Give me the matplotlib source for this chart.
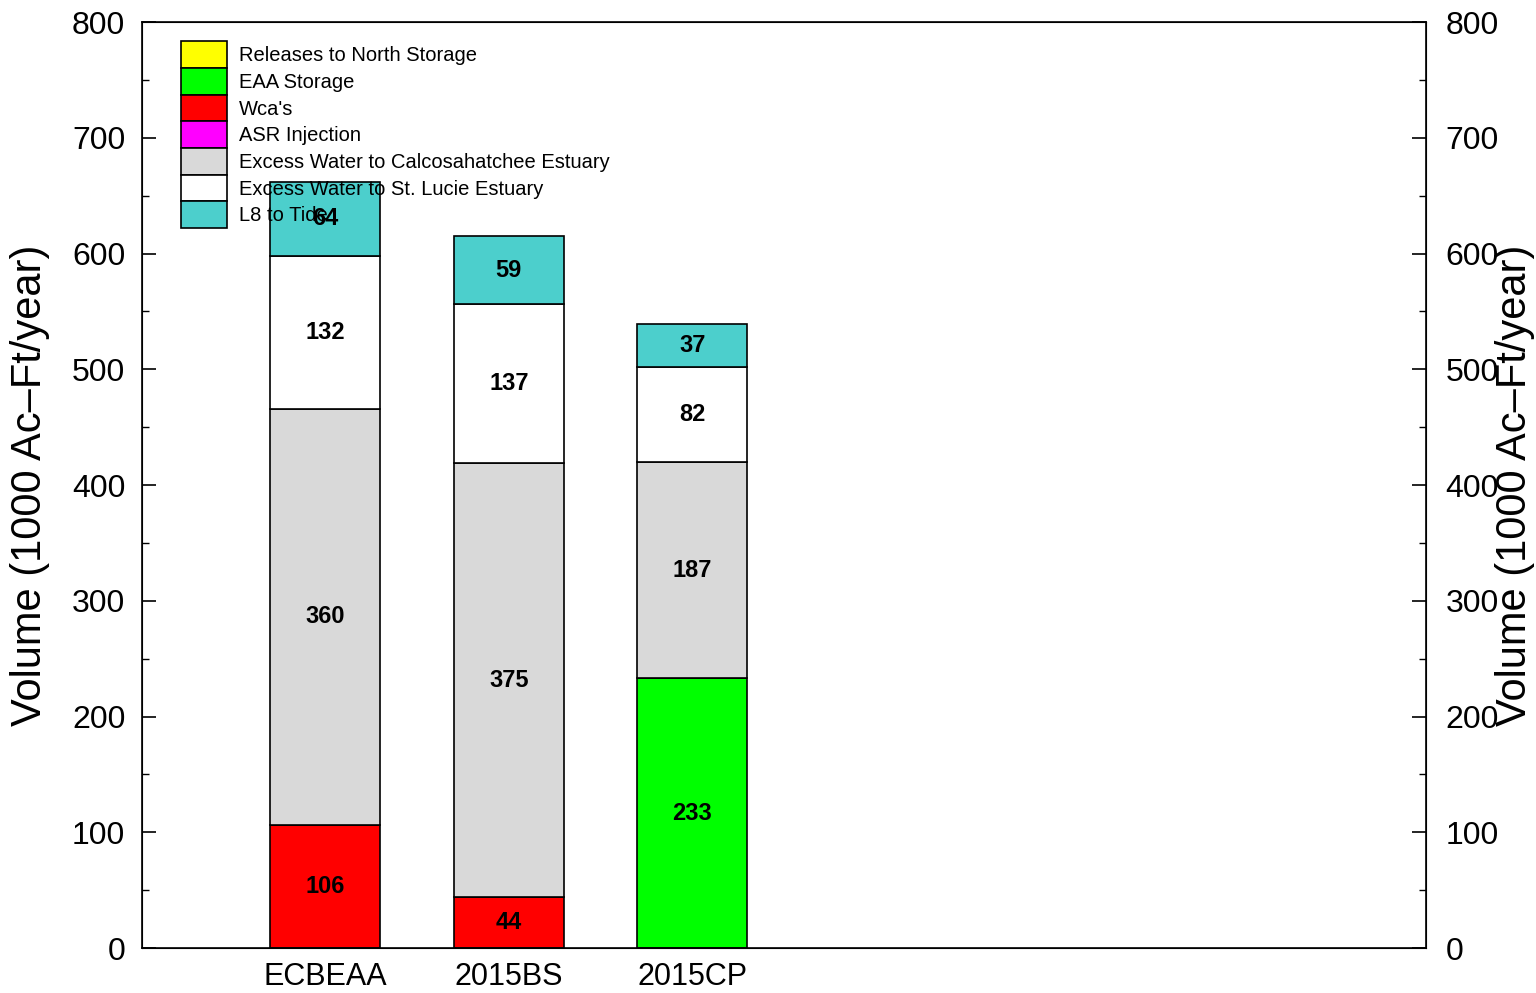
import numpy as np
import matplotlib.pyplot as plt
from matplotlib.patches import Patch
from matplotlib.ticker import MultipleLocator

# ------------------------------------------------------------
# Data (1000 Ac-Ft/year)
# ------------------------------------------------------------
scenarios = ["ECBEAA", "2015BS", "2015CP"]

categories = [
    "Releases to North Storage",
    "EAA Storage",
    "Wca's",
    "ASR Injection",
    "Excess Water to Calcosahatchee Estuary",
    "Excess Water to St. Lucie Estuary",
    "L8 to Tide",
]

north_storage = [0, 0, 0]
eaa_storage = [0, 0, 233]
wcas = [106, 44, 0]
asr_injection = [0, 0, 0]
excess_calo = [360, 375, 187]
excess_stlucie = [132, 137, 82]
l8_tide = [64, 59, 37]

colors = ["#FFFF00", "#00FF00", "#FF0000", "#FF00FF",
          "#D9D9D9", "#FFFFFF", "#4CCFCC"]

series = [north_storage, eaa_storage, wcas, asr_injection,
          excess_calo, excess_stlucie, l8_tide]

# ------------------------------------------------------------
# Figure
# ------------------------------------------------------------
plt.rcParams["font.family"] = ["Liberation Sans", "DejaVu Sans"]

fig = plt.figure(figsize=(15.36, 9.93), dpi=100)
ax = fig.add_axes([0.0924, 0.0453, 0.8359, 0.9325])

x = np.arange(1, len(scenarios) + 1)
bottom = np.zeros(len(scenarios))

for vals, color in zip(series, colors):
    vals = np.array(vals, dtype=float)
    ax.bar(x, vals, width=0.6, bottom=bottom, color=color,
           edgecolor="black", linewidth=1.2, zorder=2)
    for xi, b, v in zip(x, bottom, vals):
        if v > 0:
            ax.text(xi, b + v / 2, f"{int(v)}", ha="center", va="center",
                    fontsize=17, fontweight="bold", zorder=3)
    bottom += vals

ax.set_xlim(0, 7)
ax.set_ylim(0, 800)
ax.set_xticks(x)
ax.set_xticklabels(scenarios, fontsize=22)
ax.yaxis.set_major_locator(MultipleLocator(100))
ax.yaxis.set_minor_locator(MultipleLocator(50))
ax.tick_params(axis="y", which="major", direction="in", length=10,
               width=1.2, labelsize=23, right=False, pad=12)
ax.tick_params(axis="y", which="minor", direction="in", length=5, width=1.0)
ax.tick_params(axis="x", length=0, pad=10)
ax.set_ylabel("Volume (1000 Ac\u2013Ft/year)", fontsize=30)
ax.yaxis.set_label_coords(-0.0717, 0.5)
for s in ax.spines.values():
    s.set_linewidth(1.2)

# Right-hand axis mirrors the left one
ax_r = ax.twinx()
ax_r.set_ylim(0, 800)
ax_r.yaxis.set_major_locator(MultipleLocator(100))
ax_r.yaxis.set_minor_locator(MultipleLocator(50))
ax_r.tick_params(axis="y", which="major", direction="in", length=10,
                 width=1.2, labelsize=23, pad=14)
ax_r.tick_params(axis="y", which="minor", direction="in", length=5, width=1.0)
ax_r.set_ylabel("Volume (1000 Ac\u2013Ft/year)", fontsize=30, rotation=90)
ax_r.yaxis.set_label_coords(1.054, 0.5)
ax_r.set_zorder(ax.get_zorder() - 1)
ax.patch.set_visible(False)

# Legend texts are drawn over the bars
handles = [Patch(facecolor=c, edgecolor="black", linewidth=1.2) for c in colors]
leg = ax.legend(handles, categories, loc="upper left",
                bbox_to_anchor=(0.0304, 0.979), frameon=False,
                prop={"size": 14.5},
                handlelength=2.28, handleheight=1.66, labelspacing=0.0,
                handletextpad=0.6, borderaxespad=0.0, borderpad=0.0)
leg.set_zorder(5)

fig.savefig("out.png", dpi=100, facecolor="white")
